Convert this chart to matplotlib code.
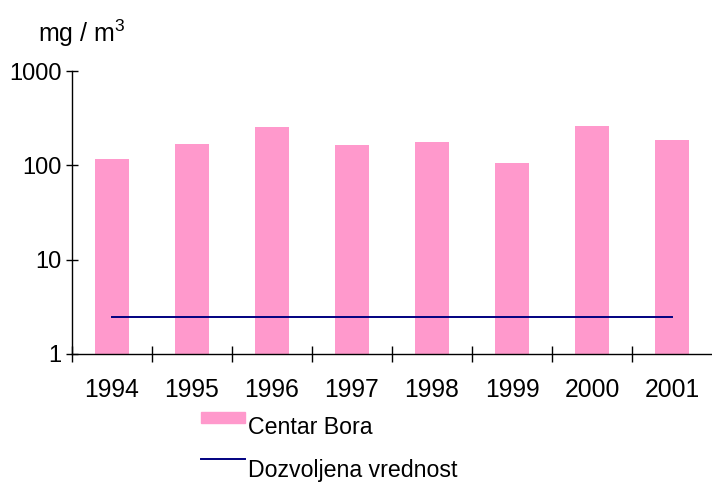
import matplotlib
matplotlib.use("Agg")
import matplotlib.pyplot as plt
from matplotlib.patches import Rectangle
from matplotlib.lines import Line2D

plt.rcParams['font.family'] = ['Liberation Sans', 'DejaVu Sans']

years = ['1994', '1995', '1996', '1997', '1998', '1999', '2000', '2001']
centar_bora = [117, 169, 255, 165, 177, 106, 262, 186]
dozvoljena = 2.44
series_names = ['Centar Bora', 'Dozvoljena vrednost']
ylabel = 'mg / m$\\mathregular{^3}$'

W, H = 712, 482
fig = plt.figure(figsize=(W / 100, H / 100), dpi=100)
ax = fig.add_axes([72 / W, 1 - 354 / H, (W - 72) / W, (354 - 71) / H])

x = list(range(len(years)))
ax.bar(x, centar_bora, width=0.42, color='#FF99CC', zorder=2)
ax.plot([x[0], x[-1]], [dozvoljena, dozvoljena], color='#000080', lw=1.4, zorder=3)

ax.set_yscale('log')
ax.set_ylim(1, 1000)
ax.set_xlim(-0.5, len(years) - 0.5)
ax.set_yticks([1, 10, 100, 1000])
ax.set_yticklabels(['1', '10', '100', '1000'])
ax.minorticks_off()
ax.tick_params(axis='y', which='major', direction='inout', length=9, width=1,
               labelsize=17, pad=3)
ax.set_xticks([i - 0.5 for i in x])
ax.set_xticklabels([])
ax.set_xticks(x, minor=True)
ax.set_xticklabels(years, minor=True)
ax.tick_params(axis='x', which='major', direction='inout', length=11, width=1)
ax.tick_params(axis='x', which='minor', length=0, labelsize=17.8, pad=17)

for s in ['top', 'right']:
    ax.spines[s].set_visible(False)
for s in ['left', 'bottom']:
    ax.spines[s].set_color('black')
    ax.spines[s].set_linewidth(1)

fig.text(38 / W, 1 - 33 / H, ylabel, fontsize=18, va='center', ha='left')

# Legend (manual)
fig.add_artist(Rectangle((201 / W, 1 - 423 / H), 44 / W, 11 / H,
                         transform=fig.transFigure, color='#FF99CC'))
fig.text(248 / W, 1 - 428 / H, series_names[0], fontsize=16.7, va='center', ha='left')
fig.add_artist(Line2D([201 / W, 245 / W], [1 - 459 / H, 1 - 459 / H],
                      transform=fig.transFigure, color='#000080', lw=1.4))
fig.text(248 / W, 1 - 471 / H, series_names[1], fontsize=16.7, va='center', ha='left')

fig.savefig('out.png', dpi=100)
